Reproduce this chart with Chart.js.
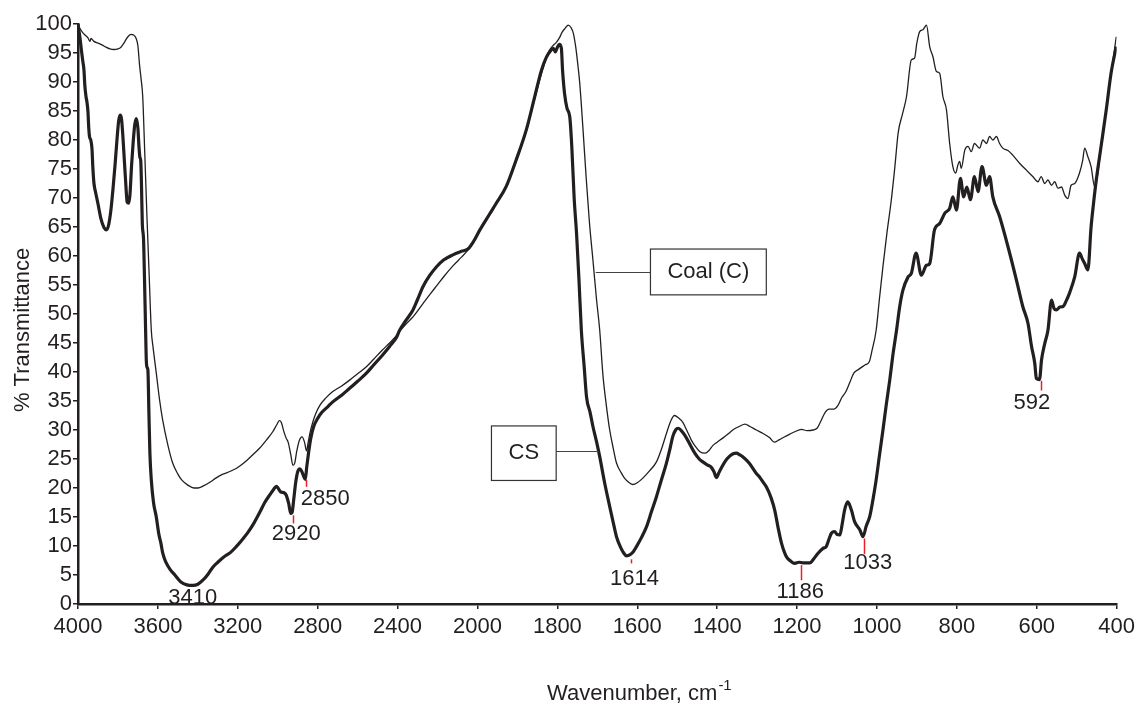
<!DOCTYPE html>
<html>
<head>
<meta charset="utf-8">
<title>FTIR spectra - Coal (C) and CS</title>
<script src="https://cdn.jsdelivr.net/npm/chart.js@4.4.1/dist/chart.umd.min.js"></script>
<style>
  html, body { margin: 0; padding: 0; background: #fff; }
  canvas { display: block; }
</style>
</head>
<body>
<canvas id="ftirChart" width="1140" height="705"></canvas>
<script>
// Split wavenumber axis: 400 cm-1 per step above 2000, 200 cm-1 per step below.
const xTickLabels = ['4000', '3600', '3200', '2800', '2400', '2000', '1800',
                     '1600', '1400', '1200', '1000', '800', '600', '400'];

// Coal (C) - thin trace
const coalWn = [
  4000, 3992, 3980, 3965, 3950, 3940, 3935, 3920, 3900, 3880,
  3860, 3840, 3820, 3800, 3785, 3772, 3760, 3748, 3735, 3722,
  3710, 3700, 3692, 3684, 3676, 3666, 3655, 3644, 3633, 3625,
  3608, 3592, 3576, 3550, 3526, 3500, 3481, 3450, 3420, 3400,
  3370, 3340, 3310, 3280, 3256, 3230, 3206, 3170, 3126, 3090,
  3056, 3025, 3005, 2992, 2982, 2970, 2958, 2948, 2935, 2924,
  2915, 2905, 2892, 2878, 2866, 2856, 2848, 2838, 2825, 2810,
  2790, 2760, 2726, 2680, 2640, 2600, 2556, 2520, 2476, 2440,
  2405, 2390, 2360, 2323, 2273, 2240, 2206, 2165, 2123, 2080,
  2048, 2020, 1994, 1970, 1953, 1928, 1903, 1878, 1857, 1836,
  1822, 1812, 1803, 1795, 1788, 1780, 1773, 1766, 1760, 1754,
  1748, 1744, 1736, 1728, 1720, 1711, 1702, 1694, 1686, 1677,
  1669, 1660, 1652, 1640, 1632, 1620, 1611, 1600, 1586, 1570,
  1552, 1540, 1527, 1516, 1507, 1497, 1486, 1475, 1465, 1455,
  1444, 1430, 1420, 1411, 1400, 1386, 1373, 1361, 1345, 1330,
  1318, 1302, 1285, 1269, 1257, 1245, 1232, 1218, 1206, 1189,
  1175, 1160, 1150, 1140, 1130, 1120, 1108, 1098, 1088, 1078,
  1068, 1058, 1045, 1030, 1019, 1012, 1002, 994, 985, 975,
  964, 955, 947, 936, 926, 914, 906, 900, 893, 885,
  880, 876, 868, 860, 851, 843, 835, 826, 818, 810,
  803, 797, 793, 789, 780, 772, 764, 756, 743, 735,
  726, 718, 710, 701, 693, 685, 672, 660, 643, 626,
  610, 597, 589, 580, 572, 563, 555, 547, 538, 530,
  522, 514, 505, 493, 485, 480, 472, 464, 455, 447,
  443, 435, 426, 418, 409, 401
];
const coalT = [
  100, 99.3, 98.7, 98.1, 97.6, 97.0, 97.5, 97.0, 96.7, 96.4,
  96.0, 95.7, 95.6, 95.7, 96.0, 96.6, 97.3, 97.9, 98.2, 98.1,
  97.6, 96.2, 93.0, 90.5, 87.5, 78.0, 67.0, 57.0, 47.2, 44.5,
  39.8, 35.3, 31.7, 27.4, 24.3, 22.4, 21.4, 20.5, 20.0, 20.0,
  20.4, 21.0, 21.7, 22.3, 22.6, 23.0, 23.4, 24.3, 25.7, 26.9,
  28.3, 29.7, 30.9, 31.6, 31.3, 29.8, 28.6, 27.9, 25.8, 23.9,
  24.3, 26.3, 28.2, 28.8, 27.9, 26.4, 27.8, 29.6, 31.3, 32.8,
  34.2, 35.5, 36.6, 37.6, 38.6, 39.7, 40.9, 42.2, 43.8, 45.0,
  46.3, 47.0, 48.2, 49.5, 51.8, 53.3, 54.8, 56.6, 58.3, 59.8,
  61.0, 62.4, 64.4, 67.0, 69.0, 72.0, 76.4, 81.5, 87.0, 92.3,
  95.2, 96.2, 96.8, 97.6, 98.6, 99.3, 99.8, 99.4, 98.4, 96.0,
  92.5, 89.8, 82.0, 73.6, 66.0, 59.3, 52.5, 47.2, 39.5, 34.0,
  30.0, 26.8, 24.3, 22.6, 21.7, 20.9, 20.6, 20.9, 21.7, 22.9,
  24.5, 26.6, 29.4, 31.6, 32.5, 32.1, 31.3, 29.8, 28.3, 27.2,
  26.3, 26.0, 26.5, 27.3, 27.9, 28.6, 29.3, 30.0, 30.6, 31.0,
  30.6, 30.0, 29.4, 28.7, 27.9, 28.3, 28.8, 29.3, 29.7, 30.1,
  29.9, 30.0, 30.3, 31.6, 33.0, 33.6, 33.6, 34.2, 35.6, 36.6,
  38.2, 39.8, 40.5, 41.2, 41.8, 43.8, 47.2, 52.5, 58.2, 64.0,
  69.7, 75.5, 81.2, 84.5, 87.5, 93.8, 94.1, 96.8, 98.7, 99.0,
  99.5, 99.8, 96.1, 94.4, 91.8, 91.5, 87.5, 85.2, 79.4, 75.4,
  74.3, 75.8, 76.3, 75.1, 78.3, 78.9, 78.0, 79.4, 78.6, 80.0,
  79.4, 80.6, 80.0, 80.6, 79.4, 78.6, 78.2, 77.4, 76.0, 74.8,
  73.7, 72.8, 73.7, 72.5, 73.1, 72.2, 72.8, 71.7, 71.9, 70.5,
  69.9, 72.2, 72.5, 74.3, 76.5, 78.6, 77.1, 75.4, 71.9, 74.3,
  76.6, 80.5, 85.2, 89.5, 93.8, 97.8
];

// CS - thick trace
const csWn = [
  4000, 3995, 3990, 3983, 3976, 3970, 3966, 3960, 3955, 3950,
  3946, 3942, 3936, 3930, 3926, 3920, 3912, 3900, 3885, 3870,
  3858, 3847, 3835, 3825, 3815, 3805, 3796, 3789, 3782, 3776,
  3768, 3760, 3754, 3746, 3740, 3732, 3724, 3716, 3708, 3700,
  3695, 3690, 3686, 3682, 3678, 3672, 3667, 3662, 3658, 3654,
  3650, 3645, 3640, 3633, 3622, 3608, 3595, 3585, 3576, 3560,
  3540, 3515, 3485, 3455, 3425, 3400, 3375, 3350, 3326, 3300,
  3270, 3236, 3210, 3180, 3150, 3120, 3090, 3065, 3040, 3020,
  3007, 2997, 2985, 2970, 2958, 2945, 2935, 2928, 2920, 2910,
  2900, 2890, 2880, 2870, 2862, 2855, 2846, 2835, 2820, 2800,
  2780, 2750, 2726, 2680, 2640, 2600, 2556, 2520, 2476, 2440,
  2405, 2390, 2360, 2323, 2300, 2273, 2240, 2206, 2170, 2123,
  2080, 2048, 2020, 1994, 1970, 1953, 1928, 1903, 1878, 1857,
  1840, 1828, 1818, 1810, 1805, 1800, 1795, 1790, 1787, 1782,
  1776, 1769, 1764, 1758, 1752, 1746, 1740, 1733, 1727, 1718,
  1711, 1702, 1694, 1682, 1669, 1660, 1652, 1642, 1634, 1627,
  1618, 1610, 1602, 1590, 1577, 1565, 1552, 1540, 1527, 1518,
  1511, 1504, 1498, 1490, 1480, 1468, 1456, 1445, 1436, 1425,
  1415, 1408, 1402, 1396, 1390, 1380, 1370, 1360, 1352, 1343,
  1336, 1320, 1302, 1294, 1285, 1277, 1265, 1256, 1247, 1239,
  1227, 1216, 1206, 1195, 1185, 1168, 1158, 1148, 1135, 1127,
  1120, 1114, 1106, 1100, 1093, 1087, 1081, 1073, 1064, 1056,
  1043, 1035, 1027, 1018, 1010, 1002, 994, 985, 977, 968,
  960, 951, 943, 935, 922, 914, 902, 889, 876, 868,
  856, 843, 830, 818, 810, 801, 791, 783, 775, 766,
  756, 747, 737, 726, 718, 710, 693, 672, 651, 635,
  622, 613, 605, 601, 593, 588, 580, 572, 563, 557,
  551, 542, 534, 526, 518, 505, 493, 486, 480, 472,
  464, 458, 451, 439, 426, 414, 401
];
const csT = [
  100, 98.8, 97.6, 95.5, 93.6, 92.0, 89.5, 87.5, 86.5, 84.8,
  82.0, 80.5, 80.0, 78.5, 75.5, 72.5, 71.0, 69.0, 66.4, 64.9,
  64.5, 65.3, 68.0, 71.5, 75.5, 80.0, 83.4, 84.3, 83.6, 81.0,
  76.5, 72.0, 69.3, 69.1, 70.5, 75.5, 79.5, 82.6, 83.7, 82.0,
  79.0, 77.0, 76.5, 72.0, 65.5, 63.0, 56.0, 48.0, 42.0, 40.8,
  40.3, 33.0, 26.0, 21.4, 17.5, 15.0, 12.0, 10.5, 8.8, 7.2,
  6.0, 5.0, 3.8, 3.3, 3.2, 3.4, 4.1, 5.1, 6.3, 7.2,
  8.1, 8.9, 9.8, 11.0, 12.3, 13.9, 15.8, 17.5, 18.8, 19.8,
  20.3, 19.9, 19.3, 19.2, 18.8, 17.3, 15.6, 15.8, 18.0, 21.0,
  22.8, 23.3, 22.9, 22.0, 21.5, 23.6, 26.0, 28.5, 30.6, 32.0,
  33.0, 34.0, 34.8, 36.0, 37.2, 38.4, 39.8, 41.2, 42.9, 44.4,
  46.0, 47.2, 48.8, 50.7, 52.5, 54.7, 56.6, 58.1, 59.3, 60.2,
  60.8, 61.2, 62.5, 64.5, 67.2, 69.1, 72.0, 76.6, 81.7, 87.4,
  92.0, 94.2, 95.3, 95.8, 95.2, 96.0, 96.5, 95.8, 92.0, 88.0,
  85.5, 84.0, 79.0, 70.0, 63.9, 56.0, 47.2, 41.0, 35.7, 33.0,
  30.6, 28.0, 25.4, 21.0, 16.8, 14.0, 11.6, 9.8, 8.8, 8.3,
  8.5, 9.0, 9.9, 11.4, 13.3, 15.8, 18.5, 21.3, 24.3, 26.8,
  28.9, 30.0, 30.3, 29.9, 29.0, 27.5, 26.0, 25.0, 24.5, 24.0,
  23.6, 22.8, 21.8, 22.6, 23.4, 24.6, 25.4, 25.9, 26.0, 25.7,
  25.4, 24.3, 22.5, 21.9, 21.0, 20.2, 18.3, 16.2, 13.0, 10.5,
  8.2, 7.4, 7.0, 7.2, 7.1, 7.1, 7.8, 8.7, 9.6, 9.9,
  11.2, 12.2, 12.5, 12.0, 11.9, 13.8, 16.2, 17.6, 16.2, 14.2,
  12.8, 11.6, 13.4, 15.1, 18.0, 21.4, 25.5, 30.0, 34.2, 38.6,
  43.0, 47.2, 51.3, 54.1, 56.4, 57.0, 60.5, 56.7, 58.4, 58.7,
  64.5, 65.6, 67.4, 68.2, 70.2, 67.9, 73.4, 70.2, 71.9, 69.7,
  73.7, 71.1, 75.4, 72.2, 73.7, 70.2, 66.8, 61.6, 55.9, 51.3,
  48.4, 44.4, 41.5, 38.9, 38.7, 42.1, 44.9, 47.2, 52.4, 51.0,
  50.7, 51.2, 51.3, 52.3, 53.6, 56.4, 60.5, 59.5, 58.7, 57.6,
  65.0, 69.0, 73.1, 78.9, 85.2, 91.5, 96.1
];

// Peak labels: red tick (wavenumber, %T from/to) and label centre (wavenumber, %T)
const peakMarks = [
  { text: '3410', at: 3424, tick: null,         labelAt: 3426, labelT: 1.1 },
  { text: '2920', at: 2924, tick: [15.3, 13.9], labelAt: 2907, labelT: 12.1 },
  { text: '2850', at: 2860, tick: [21.4, 20.2], labelAt: 2762, labelT: 18.2 },
  { text: '1614', at: 1615, tick: [7.7, 7.0],   labelAt: 1607, labelT: 4.4 },
  { text: '1186', at: 1191, tick: [6.7, 4.1],   labelAt: 1192, labelT: 2.1 },
  { text: '1033', at: 1033, tick: [11.3, 8.6],  labelAt: 1023, labelT: 7.0 },
  { text: '592',  at: 589,  tick: [38.5, 36.8], labelAt: 612,  labelT: 34.6 }
];

// Callout boxes: box [wn left, wn right, %T top, %T bottom], leader end [wn, %T]
const callouts = [
  { text: 'Coal (C)', box: [1567, 1277, 61.2, 53.3], lead: [1704, 57.3] },
  { text: 'CS',       box: [1965, 1803, 30.7, 21.3], lead: [1696, 26.4] }
];

const FONT = "'Liberation Sans', Arial, Helvetica, sans-serif";
const INK = '#231f20';

// map a wavenumber onto the evenly spaced tick positions
function wavenumberToPos(w) {
  return w >= 2000 ? (4000 - w) / 400 : 5 + (2000 - w) / 200;
}

function toPoints(wn, t) {
  return wn.map((w, i) => ({ x: wavenumberToPos(w), y: t[i] }));
}

const annotationPlugin = {
  id: 'ftirAnnotations',
  afterDatasetsDraw(chart) {
    const { ctx, scales: { x, y } } = chart;
    const px = w => x.getPixelForValue(wavenumberToPos(w));
    const py = t => y.getPixelForValue(t);

    ctx.save();
    ctx.font = `22px ${FONT}`;
    ctx.textAlign = 'center';
    ctx.textBaseline = 'middle';

    // peak ticks and numbers
    peakMarks.forEach(p => {
      if (p.tick) {
        ctx.strokeStyle = '#e8202a';
        ctx.lineWidth = 1.5;
        ctx.beginPath();
        ctx.moveTo(Math.round(px(p.at)) + 0.5, py(p.tick[0]));
        ctx.lineTo(Math.round(px(p.at)) + 0.5, py(p.tick[1]));
        ctx.stroke();
      }
      ctx.fillStyle = INK;
      ctx.fillText(p.text, px(p.labelAt), py(p.labelT));
    });

    // callout boxes with leader lines
    callouts.forEach(c => {
      const left = px(c.box[0]), right = px(c.box[1]);
      const top = py(c.box[2]), bottom = py(c.box[3]);
      const leadX = px(c.lead[0]), leadY = Math.round(py(c.lead[1])) + 0.5;
      const edgeX = leadX > right ? right : left;

      ctx.strokeStyle = '#444';
      ctx.lineWidth = 1;
      ctx.beginPath();
      ctx.moveTo(edgeX, leadY);
      ctx.lineTo(leadX, leadY);
      ctx.stroke();

      ctx.fillStyle = '#fff';
      ctx.fillRect(left, top, right - left, bottom - top);
      ctx.strokeStyle = '#333';
      ctx.lineWidth = 1.2;
      ctx.strokeRect(left, top, right - left, bottom - top);

      ctx.fillStyle = INK;
      ctx.fillText(c.text, (left + right) / 2, (top + bottom) / 2);
    });
    ctx.restore();
  },

  // axis titles (x title carries a superscript, so both are drawn here)
  afterDraw(chart) {
    const { ctx, chartArea } = chart;
    ctx.save();
    ctx.fillStyle = INK;

    const mainText = 'Wavenumber, cm';
    const supText = '-1';
    ctx.font = `22px ${FONT}`;
    const mainW = ctx.measureText(mainText).width;
    ctx.font = `15px ${FONT}`;
    const supW = ctx.measureText(supText).width;
    const cx = chartArea.left + (chartArea.right - chartArea.left) * 0.54;
    const startX = cx - (mainW + supW) / 2;
    const baseY = 700;
    ctx.textAlign = 'left';
    ctx.textBaseline = 'alphabetic';
    ctx.font = `22px ${FONT}`;
    ctx.fillText(mainText, startX, baseY);
    ctx.font = `15px ${FONT}`;
    ctx.fillText(supText, startX + mainW + 1, baseY - 10);

    ctx.translate(23, 330);
    ctx.rotate(-Math.PI / 2);
    ctx.font = `22px ${FONT}`;
    ctx.textAlign = 'center';
    ctx.textBaseline = 'middle';
    ctx.fillText('% Transmittance', 0, 0);
    ctx.restore();
  }
};

new Chart(document.getElementById('ftirChart'), {
  type: 'line',
  data: {
    datasets: [{
      label: 'Coal (C)',
      data: toPoints(coalWn, coalT),
      borderColor: INK,
      borderWidth: 1.3,
      pointRadius: 0,
      cubicInterpolationMode: 'monotone',
      fill: false
    }, {
      label: 'CS',
      data: toPoints(csWn, csT),
      borderColor: INK,
      borderWidth: 3.2,
      pointRadius: 0,
      cubicInterpolationMode: 'monotone',
      fill: false
    }]
  },
  options: {
    responsive: false,
    animation: false,
    devicePixelRatio: 1,
    layout: { padding: { top: 24, right: 23, bottom: 0, left: 0 } },
    plugins: {
      legend: { display: false },
      tooltip: { enabled: false }
    },
    scales: {
      x: {
        type: 'linear',
        min: 0,
        max: 13,
        afterFit: scale => { scale.height = 101; },
        border: { display: true, color: INK, width: 2.5 },
        grid: { drawOnChartArea: false, drawTicks: true, tickLength: 5, color: INK, lineWidth: 1.5 },
        ticks: {
          stepSize: 1,
          autoSkip: false,
          maxRotation: 0,
          padding: 5,
          color: INK,
          font: { family: FONT, size: 22 },
          callback: value => xTickLabels[value]
        }
      },
      y: {
        min: 0,
        max: 100,
        afterFit: scale => { scale.width = 78; },
        border: { display: true, color: INK, width: 2.5 },
        grid: { drawOnChartArea: false, drawTicks: true, tickLength: 5, color: INK, lineWidth: 1.5 },
        ticks: {
          stepSize: 5,
          autoSkip: false,
          padding: 1,
          color: INK,
          font: { family: FONT, size: 22 }
        }
      }
    }
  },
  plugins: [annotationPlugin]
});
</script>
</body>
</html>
